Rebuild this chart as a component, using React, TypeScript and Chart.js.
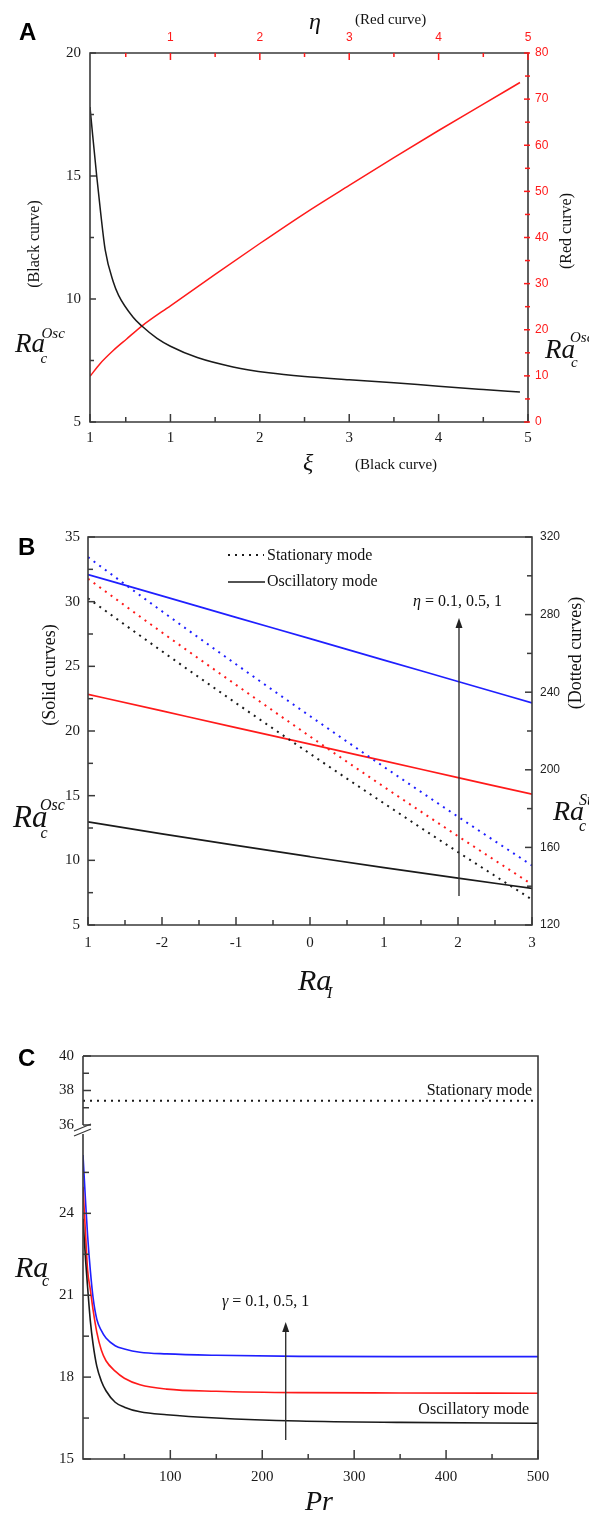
import React, { useEffect, useRef } from 'react';
import { Chart, registerables } from 'chart.js';

Chart.register(...registerables);

const SERIF = '"Liberation Serif", "Times New Roman", serif';
const SANS = '"Liberation Sans", Arial, sans-serif';
const RED = '#ff1a1a';
const BLUE = '#1f1fff';
const BLACK = '#1a1a1a';
const AXIS = '#3a3a3a';

// ---------------- Panel A ----------------
const xiValues = [0.1, 0.13, 0.175, 0.22, 0.27, 0.36, 0.42, 0.58, 0.68, 0.85, 1.0, 1.3, 1.7, 2.1, 2.5, 3.0, 3.5, 4.0, 4.5, 4.91];
const raOscBlackA = [17.8, 16.65, 15.0, 13.48, 12.0, 10.7, 10.15, 9.27, 8.9, 8.4, 8.08, 7.62, 7.24, 7.0, 6.85, 6.72, 6.6, 6.45, 6.32, 6.22];
const etaValues = [0.1, 0.21, 0.36, 0.51, 0.68, 1.0, 1.5, 2.0, 2.5, 3.0, 3.5, 4.0, 4.5, 4.91];
const raOscRedA = [9.9, 12.6, 15.5, 18.0, 20.8, 25.2, 32.0, 38.7, 45.2, 51.3, 57.3, 63.2, 68.9, 73.6];
const aXTickValues = [0.1, 1, 2, 3, 4, 5];
const aXTickLabels = ['1', '1', '2', '3', '4', '5'];
const aTopTickValues = [1, 2, 3, 4, 5];
const aTopTickLabels = ['1', '2', '3', '4', '5'];
const aXMinor = [0.5, 1.5, 2.5, 3.5, 4.5];
const aLeftTicks = [5, 10, 15, 20];
const aLeftMinor = [7.5, 12.5, 17.5];
const aRightTicks = [0, 10, 20, 30, 40, 50, 60, 70, 80];
const aRightMinor = [5, 15, 25, 35, 45, 55, 65, 75];

// ---------------- Panel B ----------------
const raIValues = [-3, -2, -1, 0, 1, 2, 3];
const oscBEta01 = [12.97, 12.05, 11.15, 10.28, 9.43, 8.62, 7.83];
const oscBEta05 = [22.84, 21.55, 20.26, 18.98, 17.69, 16.4, 15.11];
const oscBEta1 = [32.1, 30.45, 28.79, 27.14, 25.48, 23.83, 22.17];
const stBEta01 = [288.4, 261.1, 234.4, 208.3, 182.7, 157.6, 133.1];
const stBEta05 = [298.5, 270.8, 243.8, 217.2, 191.2, 165.8, 140.9];
const stBEta1 = [309.6, 281.7, 254.4, 227.7, 201.5, 175.8, 150.7];
const bXTickValues = [-3, -2, -1, 0, 1, 2, 3];
const bXTickLabels = ['1', '-2', '-1', '0', '1', '2', '3'];
const bXMinor = [-2.5, -1.5, -0.5, 0.5, 1.5, 2.5];
const bLeftTicks = [5, 10, 15, 20, 25, 30, 35];
const bLeftMinor = [7.5, 12.5, 17.5, 22.5, 27.5, 32.5];
const bRightTicks = [120, 160, 200, 240, 280, 320];
const bRightMinor = [140, 180, 220, 260, 300];

// ---------------- Panel C ----------------
const prValues = [5, 8, 10, 13, 16, 20, 25, 30, 40, 50, 67, 96, 150, 240, 350, 500];
const oscCGamma01 = [23.8, 22.2, 21.3, 20.05, 19.2, 18.4, 17.85, 17.5, 17.08, 16.9, 16.73, 16.62, 16.5, 16.39, 16.34, 16.31];
const oscCGamma05 = [24.97, 23.1, 21.92, 21.2, 20.45, 19.65, 18.98, 18.6, 18.22, 17.96, 17.72, 17.56, 17.48, 17.43, 17.42, 17.41];
const oscCGamma1 = [26.14, 24.3, 23.2, 21.9, 20.9, 20.12, 19.7, 19.43, 19.15, 19.03, 18.91, 18.85, 18.8, 18.76, 18.75, 18.75];
const stPrValues = [5, 500];
const stCValues = [37.4, 37.4];
const cXTickValues = [100, 200, 300, 400, 500];
const cXMinor = [50, 150, 250, 350, 450];
const cLowTicks = [15, 18, 21, 24];
const cLowMinor = [16.5, 19.5, 22.5, 25.5];
const cHighTicks = [36, 38, 40];
const cHighMinor = [37, 39];

// ---------------- helpers ----------------
type Side = 'left' | 'right' | 'top' | 'bottom';
interface Run { t: string; italic?: boolean; bold?: boolean }
interface TextItem {
  t?: string; runs?: Run[]; x: number; y: number; size: number;
  italic?: boolean; bold?: boolean; sans?: boolean; color?: string;
  align?: 'left' | 'center' | 'right'; baseline?: CanvasTextBaseline; rot?: number;
}
interface TickDeco { id: string; side: Side; major: number[]; minor: number[]; majLen: number; minLen: number; color: string; out?: number }
interface Deco {
  offY: number; ticks: TickDeco[]; texts: TextItem[];
  arrows?: { x: number; tip: number; tail: number }[];
  legend?: boolean; leftBreak?: { hi: number; lo: number };
}

const xy = (xs: number[], ys: number[]) => xs.map((x, i) => ({ x, y: ys[i] }));

function fontStr(size: number, italic?: boolean, bold?: boolean, sans?: boolean) {
  return `${italic ? 'italic ' : ''}${bold ? 'bold ' : ''}${size}px ${sans ? SANS : SERIF}`;
}

function drawText(ctx: CanvasRenderingContext2D, it: TextItem, offY: number) {
  ctx.save();
  ctx.translate(it.x, it.y - offY);
  if (it.rot) ctx.rotate((it.rot * Math.PI) / 180);
  ctx.fillStyle = it.color || '#111';
  ctx.textBaseline = it.baseline || 'alphabetic';
  ctx.textAlign = 'left';
  const runs: Run[] = it.runs || [{ t: it.t || '' }];
  const fonts = runs.map((r) => fontStr(it.size, r.italic ?? it.italic, r.bold ?? it.bold, it.sans));
  let total = 0;
  runs.forEach((r, i) => { ctx.font = fonts[i]; total += ctx.measureText(r.t).width; });
  let x = it.align === 'center' ? -total / 2 : it.align === 'right' ? -total : 0;
  runs.forEach((r, i) => { ctx.font = fonts[i]; ctx.fillText(r.t, x, 0); x += ctx.measureText(r.t).width; });
  ctx.restore();
}

function makeDeco(d: Deco) {
  return {
    id: 'deco',
    afterDraw(chart: any) {
      const ctx = chart.ctx as CanvasRenderingContext2D;
      const { left, right, top, bottom } = chart.chartArea;
      ctx.save();
      ctx.lineJoin = 'miter';
      ctx.strokeStyle = AXIS;
      ctx.lineWidth = 1.6;
      ctx.beginPath();
      ctx.moveTo(left, top);
      ctx.lineTo(right, top);
      ctx.lineTo(right, bottom);
      ctx.lineTo(left, bottom);
      if (d.leftBreak) {
        ctx.lineTo(left, d.leftBreak.lo - d.offY);
        ctx.moveTo(left, d.leftBreak.hi - d.offY);
        ctx.lineTo(left, top);
      } else {
        ctx.closePath();
      }
      ctx.stroke();

      if (d.leftBreak) {
        const yb = d.leftBreak.hi - d.offY;
        ctx.lineWidth = 1.3;
        ctx.beginPath();
        ctx.moveTo(left - 9, yb + 6); ctx.lineTo(left + 8, yb - 1);
        ctx.moveTo(left - 9, yb + 11); ctx.lineTo(left + 8, yb + 4);
        ctx.stroke();
      }

      for (const t of d.ticks) {
        const sc = chart.scales[t.id];
        ctx.strokeStyle = t.color;
        ctx.lineWidth = 1.5;
        const o = t.out || 0;
        const draw = (v: number, len: number) => {
          const p = sc.getPixelForValue(v);
          ctx.beginPath();
          if (t.side === 'left') { ctx.moveTo(left - o, p); ctx.lineTo(left + len, p); }
          else if (t.side === 'right') { ctx.moveTo(right + o, p); ctx.lineTo(right - len, p); }
          else if (t.side === 'bottom') { ctx.moveTo(p, bottom + o); ctx.lineTo(p, bottom - len); }
          else { ctx.moveTo(p, top - o); ctx.lineTo(p, top + len); }
          ctx.stroke();
        };
        t.major.forEach((v) => draw(v, t.majLen));
        t.minor.forEach((v) => draw(v, t.minLen));
      }

      if (d.legend) {
        ctx.strokeStyle = BLACK;
        ctx.lineWidth = 2;
        ctx.setLineDash([2, 5]);
        ctx.beginPath(); ctx.moveTo(228, 555 - d.offY); ctx.lineTo(264, 555 - d.offY); ctx.stroke();
        ctx.setLineDash([]);
        ctx.lineWidth = 1.6;
        ctx.beginPath(); ctx.moveTo(228, 582 - d.offY); ctx.lineTo(265, 582 - d.offY); ctx.stroke();
      }

      for (const a of d.arrows || []) {
        ctx.strokeStyle = '#333';
        ctx.fillStyle = '#222';
        ctx.lineWidth = 1.4;
        ctx.beginPath(); ctx.moveTo(a.x, a.tail - d.offY); ctx.lineTo(a.x, a.tip - d.offY + 8); ctx.stroke();
        ctx.beginPath();
        ctx.moveTo(a.x, a.tip - d.offY);
        ctx.lineTo(a.x - 3.5, a.tip - d.offY + 10);
        ctx.lineTo(a.x + 3.5, a.tip - d.offY + 10);
        ctx.closePath();
        ctx.fill();
      }

      for (const it of d.texts) drawText(ctx, it, d.offY);
      ctx.restore();
    },
  };
}

interface AxisOpts {
  position: Side; min: number; max: number; ticks: number[]; labels?: string[];
  size: number; font: any; color: string; padding: number; stack?: string; stackWeight?: number;
}

function axis(o: AxisOpts) {
  const a: any = {
    type: 'linear',
    position: o.position,
    min: o.min,
    max: o.max,
    grid: { display: false, drawTicks: false },
    border: { display: false },
    afterBuildTicks: (s: any) => { s.ticks = o.ticks.map((v) => ({ value: v })); },
    afterFit: (s: any) => {
      if (o.position === 'left' || o.position === 'right') s.width = o.size;
      else s.height = o.size;
    },
    ticks: {
      autoSkip: false, maxRotation: 0, minRotation: 0, padding: o.padding, color: o.color, font: o.font,
      callback: (v: number, i: number) => (o.labels ? o.labels[i] : String(v)),
    },
  };
  if (o.stack) { a.stack = o.stack; a.stackWeight = o.stackWeight; }
  return a;
}

const serif15 = { family: SERIF, size: 15 };
const sans12 = { family: SANS, size: 12 };

function line(data: any[], color: string, x: string, y: string, width = 1.5, dash?: number[]) {
  return {
    data, borderColor: color, backgroundColor: color, borderWidth: width, pointRadius: 0,
    xAxisID: x, yAxisID: y, cubicInterpolationMode: 'monotone', borderDash: dash || [], fill: false,
  };
}

function configA(): any {
  const offY = 0;
  return {
    type: 'line',
    data: {
      datasets: [
        line(xy(xiValues, raOscBlackA), BLACK, 'x', 'y', 1.5),
        line(xy(etaValues, raOscRedA), RED, 'x2', 'y2', 1.5),
      ],
    },
    options: {
      responsive: false, animation: false, devicePixelRatio: 1,
      layout: { padding: 0 },
      plugins: { legend: { display: false }, tooltip: { enabled: false } },
      scales: {
        x: axis({ position: 'bottom', min: 0.1, max: 5, ticks: aXTickValues, labels: aXTickLabels, size: 78, font: serif15, color: BLACK, padding: 7 }),
        x2: axis({ position: 'top', min: 0.1, max: 5, ticks: aTopTickValues, labels: aTopTickLabels, size: 53, font: sans12, color: RED, padding: 8 }),
        y: axis({ position: 'left', min: 5, max: 20, ticks: aLeftTicks, size: 90, font: serif15, color: BLACK, padding: 9 }),
        y2: axis({ position: 'right', min: 0, max: 80, ticks: aRightTicks, size: 61, font: sans12, color: RED, padding: 7 }),
      },
    },
    plugins: [makeDeco({
      offY,
      ticks: [
        { id: 'y', side: 'left', major: aLeftTicks, minor: aLeftMinor, majLen: 6, minLen: 4, color: AXIS },
        { id: 'x', side: 'bottom', major: aXTickValues, minor: aXMinor, majLen: 8, minLen: 5, color: AXIS },
        { id: 'x2', side: 'top', major: aTopTickValues, minor: aXMinor, majLen: 7, minLen: 4, color: RED },
        { id: 'y2', side: 'right', major: aRightTicks, minor: aRightMinor, majLen: 4, minLen: 3, color: RED, out: 2 },
      ],
      texts: [
        { t: 'A', x: 19, y: 39.5, size: 24, bold: true, sans: true, color: '#000' },
        { t: 'η', x: 309, y: 29, size: 24, italic: true },
        { t: '(Red curve)', x: 355, y: 24, size: 15 },
        { t: 'ξ', x: 303, y: 470, size: 24, italic: true },
        { t: '(Black curve)', x: 355, y: 469, size: 15 },
        { t: '(Black curve)', x: 35, y: 244, size: 16, rot: -90, align: 'center', baseline: 'middle' },
        { t: '(Red curve)', x: 567, y: 231, size: 16, rot: -90, align: 'center', baseline: 'middle' },
        { t: 'Ra', x: 15, y: 352, size: 27, italic: true },
        { t: 'Osc', x: 41.5, y: 337.5, size: 15, italic: true },
        { t: 'c', x: 40.5, y: 363, size: 15, italic: true },
        { t: 'Ra', x: 545, y: 358, size: 27, italic: true },
        { t: 'Osc', x: 570, y: 342, size: 15, italic: true },
        { t: 'c', x: 571, y: 367, size: 15, italic: true },
      ],
    })],
  };
}

function configB(): any {
  const offY = 500;
  const dot = [2, 5];
  return {
    type: 'line',
    data: {
      datasets: [
        line(xy(raIValues, stBEta01), BLACK, 'x', 'y2', 2, dot),
        line(xy(raIValues, stBEta05), RED, 'x', 'y2', 2, dot),
        line(xy(raIValues, stBEta1), BLUE, 'x', 'y2', 2, dot),
        line(xy(raIValues, oscBEta01), BLACK, 'x', 'y', 1.7),
        line(xy(raIValues, oscBEta05), RED, 'x', 'y', 1.7),
        line(xy(raIValues, oscBEta1), BLUE, 'x', 'y', 1.7),
      ],
    },
    options: {
      responsive: false, animation: false, devicePixelRatio: 1,
      layout: { padding: { top: 37, left: 0, right: 0, bottom: 0 } },
      plugins: { legend: { display: false }, tooltip: { enabled: false } },
      scales: {
        x: axis({ position: 'bottom', min: -3, max: 3, ticks: bXTickValues, labels: bXTickLabels, size: 85, font: serif15, color: BLACK, padding: 9 }),
        y: axis({ position: 'left', min: 5, max: 35, ticks: bLeftTicks, size: 88, font: serif15, color: BLACK, padding: 8 }),
        y2: axis({ position: 'right', min: 120, max: 320, ticks: bRightTicks, size: 57, font: sans12, color: '#222', padding: 8 }),
      },
    },
    plugins: [makeDeco({
      offY,
      legend: true,
      arrows: [{ x: 459, tip: 618, tail: 896 }],
      ticks: [
        { id: 'y', side: 'left', major: bLeftTicks, minor: bLeftMinor, majLen: 7, minLen: 5, color: AXIS },
        { id: 'x', side: 'bottom', major: bXTickValues, minor: bXMinor, majLen: 8, minLen: 5, color: AXIS },
        { id: 'y2', side: 'right', major: bRightTicks, minor: bRightMinor, majLen: 7, minLen: 5, color: AXIS },
      ],
      texts: [
        { t: 'B', x: 18, y: 555, size: 24, bold: true, sans: true, color: '#000' },
        { t: '(Solid curves)', x: 50, y: 675, size: 18, rot: -90, align: 'center', baseline: 'middle' },
        { t: '(Dotted curves)', x: 576, y: 653, size: 18, rot: -90, align: 'center', baseline: 'middle' },
        { t: 'Stationary mode', x: 267, y: 556, size: 16, baseline: 'middle' },
        { t: 'Oscillatory mode', x: 267, y: 582, size: 16, baseline: 'middle' },
        { runs: [{ t: 'η', italic: true }, { t: ' = 0.1, 0.5, 1' }], x: 413, y: 606, size: 16 },
        { t: 'Ra', x: 13, y: 827, size: 31, italic: true },
        { t: 'Osc', x: 40, y: 810, size: 16, italic: true },
        { t: 'c', x: 40.5, y: 838, size: 16, italic: true },
        { t: 'Ra', x: 553, y: 820, size: 28, italic: true },
        { t: 'St', x: 579, y: 805, size: 16, italic: true },
        { t: 'c', x: 579, y: 831, size: 16, italic: true },
        { t: 'Ra', x: 298, y: 990, size: 30, italic: true },
        { t: 'I', x: 327, y: 998, size: 16, italic: true },
      ],
    })],
  };
}

function configC(): any {
  const offY = 1010;
  return {
    type: 'line',
    data: {
      datasets: [
        line(xy(stPrValues, stCValues), BLACK, 'x', 'yHigh', 2, [2, 5]),
        line(xy(prValues, oscCGamma01), BLACK, 'x', 'yLow', 1.6),
        line(xy(prValues, oscCGamma05), RED, 'x', 'yLow', 1.6),
        line(xy(prValues, oscCGamma1), BLUE, 'x', 'yLow', 1.6),
      ],
    },
    options: {
      responsive: false, animation: false, devicePixelRatio: 1,
      layout: { padding: { top: 46, left: 0, right: 51, bottom: 0 } },
      plugins: { legend: { display: false }, tooltip: { enabled: false } },
      scales: {
        x: axis({ position: 'bottom', min: 5, max: 500, ticks: cXTickValues, size: 56, font: serif15, color: BLACK, padding: 9 }),
        yLow: axis({ position: 'left', min: 15, max: 26.87, ticks: cLowTicks, size: 83, font: serif15, color: BLACK, padding: 9, stack: 'c', stackWeight: 324 }),
        yHigh: axis({ position: 'left', min: 35.42, max: 40, ticks: cHighTicks, size: 83, font: serif15, color: BLACK, padding: 9, stack: 'c', stackWeight: 79 }),
      },
    },
    plugins: [makeDeco({
      offY,
      leftBreak: { hi: 1125, lo: 1134 },
      arrows: [{ x: 285.7, tip: 1322, tail: 1440 }],
      ticks: [
        { id: 'yLow', side: 'left', major: cLowTicks, minor: cLowMinor, majLen: 8, minLen: 6, color: AXIS },
        { id: 'yHigh', side: 'left', major: cHighTicks, minor: cHighMinor, majLen: 8, minLen: 6, color: AXIS },
        { id: 'x', side: 'bottom', major: cXTickValues, minor: cXMinor, majLen: 9, minLen: 5, color: AXIS },
      ],
      texts: [
        { t: 'C', x: 18, y: 1066, size: 24, bold: true, sans: true, color: '#000' },
        { t: 'Stationary mode', x: 532, y: 1095, size: 16, align: 'right' },
        { t: 'Oscillatory mode', x: 529, y: 1414, size: 16, align: 'right' },
        { runs: [{ t: 'γ', italic: true }, { t: ' = 0.1, 0.5, 1' }], x: 222, y: 1306, size: 16 },
        { t: 'Ra', x: 15, y: 1277, size: 30, italic: true },
        { t: 'c', x: 42, y: 1286, size: 16, italic: true },
        { t: 'Pr', x: 305, y: 1510, size: 28, italic: true },
      ],
    })],
  };
}

function Panel({ top, height, make }: { top: number; height: number; make: () => any }) {
  const ref = useRef<HTMLCanvasElement>(null);
  useEffect(() => {
    const chart = new Chart(ref.current as HTMLCanvasElement, make());
    return () => chart.destroy();
  }, [make]);
  return (
    <canvas
      ref={ref}
      width={589}
      height={height}
      style={{ position: 'absolute', left: 0, top, width: 589, height, display: 'block' }}
    />
  );
}

export default function App() {
  return (
    <div style={{ position: 'absolute', left: 0, top: 0, width: 589, height: 1515, background: '#fff', overflow: 'hidden' }}>
      <Panel top={0} height={500} make={configA} />
      <Panel top={500} height={510} make={configB} />
      <Panel top={1010} height={505} make={configC} />
    </div>
  );
}
